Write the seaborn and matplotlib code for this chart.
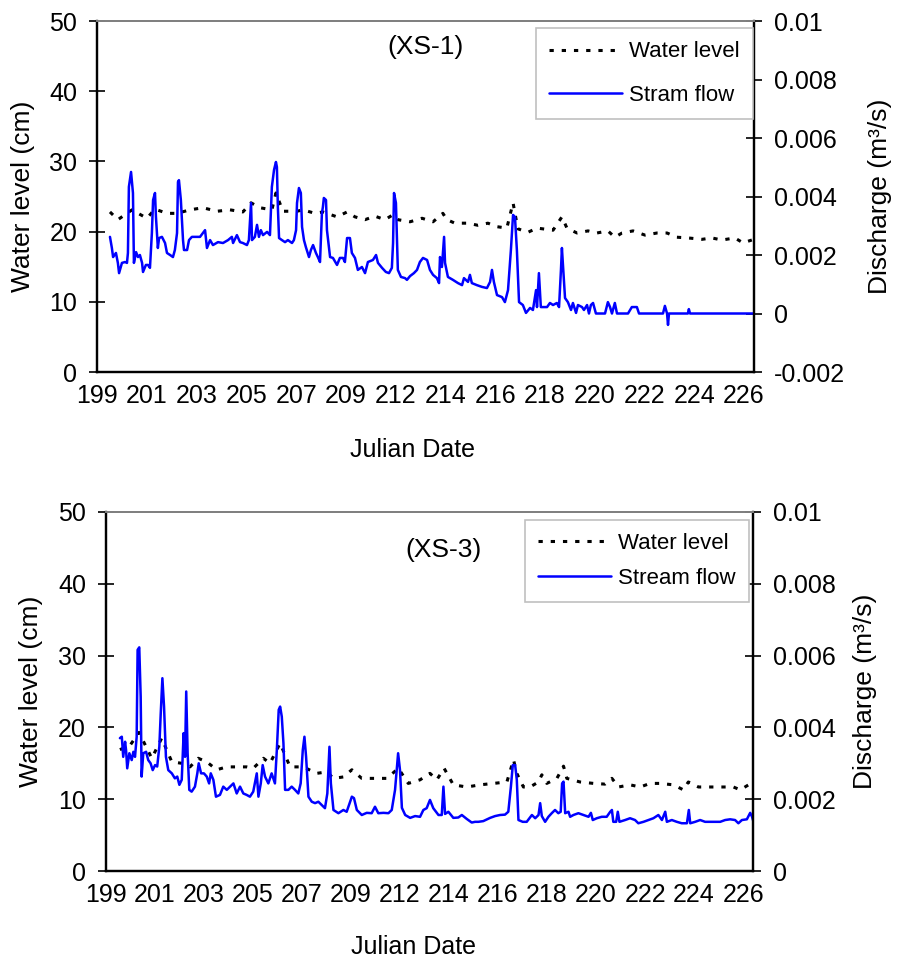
import numpy as np
import matplotlib
matplotlib.use('Agg')
import matplotlib.pyplot as plt
import seaborn as sns

# x tick labels (category style labels as in the original chart)
day_labels = ['199', '201', '203', '205', '207', '209', '212', '214',
              '216', '218', '220', '222', '224', '226']

# ---- XS-1 ----
xs1_level_day = [199.53, 199.86, 200.45, 201.07, 201.41, 201.91, 202.33, 202.87, 203.41, 204.00,
                 204.54, 205.08, 205.42, 205.79, 206.29, 206.46, 206.75, 207.34, 207.59, 208.09,
                 208.42, 209.01, 209.43, 209.76, 210.18, 210.59, 211.01, 211.35, 211.55, 212.06,
                 212.56, 213.02, 213.43, 213.60, 213.93, 214.48, 214.89, 215.31, 215.69, 216.10,
                 216.36, 216.56, 216.98, 217.36, 218.03, 218.40, 218.61, 219.03, 219.49, 219.86,
                 220.32, 220.61, 220.91, 221.37, 221.87, 222.37, 222.79, 223.20, 223.66, 224.25,
                 224.66, 225.08, 225.62, 225.96, 226.33]
xs1_level_cm = [22.8, 21.7, 23.1, 21.9, 23.2, 22.6, 22.6, 23.1, 23.4, 22.9,
                23.1, 22.8, 24.1, 23.4, 23.1, 25.5, 22.9, 22.9, 23.1, 22.6,
                22.8, 22.1, 22.8, 22.1, 21.7, 22.2, 21.7, 22.4, 21.7, 21.4,
                21.9, 21.4, 22.6, 21.7, 21.2, 21.2, 20.9, 21.2, 20.7, 20.5,
                24.1, 20.4, 19.9, 20.5, 20.2, 22.1, 20.5, 19.8, 20.1, 19.8,
                20.1, 19.2, 19.8, 20.1, 19.5, 19.8, 19.8, 19.2, 19.1, 18.9,
                19.1, 18.8, 19.1, 18.4, 18.8]

xs1_flow_day = [199.53, 199.61, 199.66, 199.78, 199.86, 199.91, 200.03, 200.16, 200.24, 200.28,
                200.32, 200.41, 200.49, 200.53, 200.62, 200.70, 200.78, 200.87, 200.91, 201.03,
                201.12, 201.20, 201.28, 201.33, 201.41, 201.45, 201.53, 201.58, 201.70, 201.83,
                201.91, 202.04, 202.16, 202.24, 202.33, 202.37, 202.41, 202.49, 202.58, 202.62,
                202.75, 202.83, 202.95, 203.16, 203.29, 203.41, 203.50, 203.58, 203.71, 203.83,
                204.04, 204.25, 204.46, 204.62, 204.67, 204.83, 204.96, 205.08, 205.25, 205.33,
                205.42, 205.46, 205.58, 205.67, 205.75, 205.83, 205.92, 206.09, 206.21, 206.29,
                206.38, 206.46, 206.50, 206.54, 206.59, 206.71, 206.84, 206.96, 207.13, 207.21,
                207.30, 207.34, 207.42, 207.50, 207.55, 207.63, 207.71, 207.84, 207.92, 208.01,
                208.13, 208.21, 208.30, 208.38, 208.42, 208.46, 208.55, 208.59, 208.72, 208.84,
                209.01, 209.13, 209.26, 209.34, 209.43, 209.55, 209.63, 209.76, 209.88, 210.05,
                210.18, 210.30, 210.51, 210.64, 210.72, 210.89, 211.05, 211.18, 211.30, 211.35,
                211.39, 211.47, 211.55, 211.68, 211.85, 211.93, 212.06, 212.22, 212.35, 212.47,
                212.60, 212.77, 212.89, 213.02, 213.18, 213.27, 213.31, 213.39, 213.48, 213.52,
                213.64, 213.85, 214.06, 214.23, 214.31, 214.48, 214.56, 214.64, 214.85, 215.06,
                215.27, 215.40, 215.48, 215.56, 215.69, 215.90, 216.02, 216.15, 216.27, 216.36,
                216.44, 216.52, 216.61, 216.77, 216.90, 217.07, 217.19, 217.32, 217.36, 217.44,
                217.52, 217.61, 217.78, 217.90, 218.03, 218.19, 218.28, 218.36, 218.40, 218.44,
                218.53, 218.65, 218.78, 218.86, 218.99, 219.07, 219.24, 219.32, 219.45, 219.53,
                219.61, 219.70, 219.82, 220.20, 220.32, 220.41, 220.49, 220.61, 220.70, 221.16,
                221.32, 221.53, 221.62, 222.62, 222.70, 222.79, 222.83, 222.87, 223.66, 223.70,
                223.75, 226.38]
xs1_flow_q = [0.00262, 0.00224, 0.00193, 0.00207, 0.00173, 0.00138, 0.00173, 0.00176, 0.00173, 0.00207,
              0.00433, 0.00484, 0.00412, 0.00173, 0.00210, 0.00193, 0.00200, 0.00173, 0.00142, 0.00166,
              0.00166, 0.00156, 0.00275, 0.00388, 0.00412, 0.00330, 0.00224, 0.00258, 0.00262, 0.00241,
              0.00207, 0.00200, 0.00193, 0.00217, 0.00275, 0.00450, 0.00456, 0.00388, 0.00251, 0.00217,
              0.00217, 0.00251, 0.00262, 0.00262, 0.00262, 0.00275, 0.00285, 0.00224, 0.00251, 0.00234,
              0.00244, 0.00241, 0.00251, 0.00262, 0.00241, 0.00268, 0.00244, 0.00241, 0.00234, 0.00251,
              0.00378, 0.00251, 0.00262, 0.00303, 0.00262, 0.00285, 0.00268, 0.00279, 0.00268, 0.00433,
              0.00491, 0.00518, 0.00501, 0.00364, 0.00258, 0.00251, 0.00244, 0.00251, 0.00241, 0.00251,
              0.00285, 0.00378, 0.00429, 0.00412, 0.00296, 0.00251, 0.00227, 0.00193, 0.00217, 0.00234,
              0.00207, 0.00193, 0.00176, 0.00343, 0.00364, 0.00395, 0.00388, 0.00285, 0.00193, 0.00190,
              0.00166, 0.00190, 0.00190, 0.00176, 0.00258, 0.00258, 0.00207, 0.00190, 0.00149, 0.00159,
              0.00138, 0.00176, 0.00183, 0.00200, 0.00173, 0.00156, 0.00142, 0.00138, 0.00156, 0.00241,
              0.00412, 0.00378, 0.00149, 0.00125, 0.00121, 0.00115, 0.00128, 0.00138, 0.00149, 0.00176,
              0.00190, 0.00183, 0.00149, 0.00132, 0.00121, 0.00104, 0.00193, 0.00159, 0.00262, 0.00173,
              0.00125, 0.00115, 0.00104, 0.00097, 0.00121, 0.00108, 0.00132, 0.00104, 0.00097, 0.00091,
              0.00087, 0.00108, 0.00149, 0.00108, 0.00063, 0.00056, 0.00039, 0.00080, 0.00217, 0.00337,
              0.00330, 0.00217, 0.00039, 0.00029, 0.00002, 0.00019, 0.00012, 0.00080, 0.00022, 0.00138,
              0.00022, 0.00022, 0.00022, 0.00036, 0.00029, 0.00036, 0.00022, 0.00149, 0.00224, 0.00173,
              0.00053, 0.00039, 0.00012, 0.00036, 0.00002, 0.00029, 0.00022, 0.00012, 0.00029, 0.0,
              0.00029, 0.00036, 0.0, 0.0, 0.00039, 0.00022, 0.0, 0.00036, 0.0, 0.0,
              0.00022, 0.00022, 0.0, 0.0, 0.00026, 0.0, -0.00039, 0.0, 0.0, 0.00015,
              0.0, 0.0]

# ---- XS-3 ----
xs3_level_day = [199.59, 200.02, 200.40, 200.94, 201.36, 201.79, 202.21, 202.56, 202.91, 203.27,
                 203.69, 204.12, 204.54, 204.96, 205.24, 205.67, 205.95, 206.38, 206.80, 207.36,
                 207.93, 208.36, 208.64, 209.06, 209.42, 209.84, 210.33, 210.90, 211.39, 211.81,
                 212.31, 212.73, 213.02, 213.33, 213.72, 214.29, 214.85, 215.42, 215.99, 216.27,
                 216.41, 216.69, 216.97, 217.33, 217.47, 217.68, 218.11, 218.39, 218.53, 219.09,
                 219.66, 220.15, 220.44, 220.72, 221.21, 221.64, 222.06, 222.48, 223.05, 223.47,
                 223.68, 224.11, 224.60, 225.17, 225.59, 225.88, 226.23, 226.44]
xs3_level_cm = [16.9, 17.5, 19.3, 15.7, 18.5, 15.2, 15.0, 14.5, 15.7, 15.2,
                14.1, 14.5, 14.5, 14.5, 14.3, 15.7, 15.0, 17.8, 14.5, 14.5,
                13.6, 13.8, 12.9, 13.1, 14.1, 12.9, 12.9, 12.9, 14.3, 12.2,
                12.7, 13.6, 12.7, 14.3, 12.0, 11.7, 12.0, 12.2, 12.4, 15.5,
                13.6, 11.7, 11.7, 12.4, 13.4, 12.2, 12.9, 14.6, 12.9, 12.4,
                12.2, 12.1, 12.9, 11.7, 12.0, 11.7, 12.2, 12.2, 12.0, 11.3,
                12.4, 11.7, 11.7, 11.7, 11.7, 11.3, 12.0, 12.1]

xs3_flow_day = [199.59, 199.67, 199.73, 199.81, 199.85, 199.90, 199.99, 200.09, 200.16, 200.23,
                200.30, 200.34, 200.41, 200.47, 200.51, 200.58, 200.70, 200.79, 200.89, 200.98,
                201.08, 201.17, 201.26, 201.32, 201.39, 201.46, 201.54, 201.64, 201.79, 201.92,
                202.02, 202.11, 202.21, 202.29, 202.35, 202.40, 202.46, 202.53, 202.63, 202.77,
                202.87, 202.93, 203.03, 203.15, 203.27, 203.37, 203.44, 203.55, 203.66, 203.83,
                203.97, 204.12, 204.26, 204.40, 204.54, 204.68, 204.82, 204.96, 205.10, 205.24,
                205.39, 205.46, 205.56, 205.64, 205.74, 205.88, 206.02, 206.16, 206.24, 206.32,
                206.38, 206.45, 206.52, 206.59, 206.73, 206.87, 207.01, 207.15, 207.25, 207.34,
                207.41, 207.48, 207.58, 207.72, 207.86, 208.00, 208.14, 208.28, 208.38, 208.47,
                208.53, 208.64, 208.85, 209.06, 209.20, 209.42, 209.51, 209.63, 209.84, 210.05,
                210.26, 210.40, 210.54, 210.76, 210.97, 211.11, 211.25, 211.38, 211.46, 211.54,
                211.68, 211.89, 212.10, 212.31, 212.45, 212.59, 212.73, 212.87, 213.09, 213.23,
                213.30, 213.37, 213.51, 213.72, 213.93, 214.08, 214.29, 214.50, 214.64, 214.78,
                214.99, 215.28, 215.49, 215.70, 215.91, 216.05, 216.16, 216.24, 216.34, 216.41,
                216.48, 216.66, 216.83, 217.05, 217.19, 217.33, 217.40, 217.47, 217.61, 217.75,
                217.89, 218.03, 218.17, 218.27, 218.33, 218.39, 218.46, 218.60, 218.67, 218.81,
                219.02, 219.23, 219.45, 219.55, 219.63, 219.80, 220.01, 220.22, 220.37, 220.44,
                220.50, 220.62, 220.69, 220.76, 221.00, 221.21, 221.42, 221.56, 221.78, 221.99,
                222.20, 222.41, 222.56, 222.70, 222.77, 222.98, 223.19, 223.40, 223.62, 223.70,
                223.76, 223.97, 224.18, 224.39, 224.60, 224.82, 225.03, 225.24, 225.45, 225.66,
                225.80, 225.95, 226.16, 226.30, 226.38, 226.44]
xs3_flow_q = [0.00370, 0.00374, 0.00318, 0.00360, 0.00337, 0.00286, 0.00328, 0.00309, 0.00332, 0.00318,
              0.00374, 0.00616, 0.00623, 0.00486, 0.00263, 0.00328, 0.00332, 0.00309, 0.00300, 0.00281,
              0.00295, 0.00291, 0.00346, 0.00439, 0.00537, 0.00458, 0.00318, 0.00281, 0.00272, 0.00258,
              0.00263, 0.00240, 0.00254, 0.00384, 0.00318, 0.00500, 0.00328, 0.00226, 0.00221, 0.00235,
              0.00272, 0.00300, 0.00272, 0.00272, 0.00263, 0.00244, 0.00272, 0.00254, 0.00207, 0.00212,
              0.00235, 0.00226, 0.00235, 0.00244, 0.00216, 0.00235, 0.00216, 0.00212, 0.00207, 0.00221,
              0.00272, 0.00207, 0.00244, 0.00295, 0.00263, 0.00244, 0.00272, 0.00244, 0.00337, 0.00449,
              0.00458, 0.00430, 0.00356, 0.00226, 0.00226, 0.00235, 0.00226, 0.00216, 0.00244, 0.00337,
              0.00374, 0.00318, 0.00207, 0.00193, 0.00189, 0.00193, 0.00184, 0.00175, 0.00216, 0.00346,
              0.00244, 0.00170, 0.00161, 0.00170, 0.00165, 0.00207, 0.00203, 0.00170, 0.00156, 0.00162,
              0.00161, 0.00179, 0.00161, 0.00162, 0.00161, 0.00170, 0.00226, 0.00328, 0.00281, 0.00176,
              0.00156, 0.00148, 0.00153, 0.00151, 0.00170, 0.00175, 0.00198, 0.00175, 0.00156, 0.00156,
              0.00235, 0.00159, 0.00165, 0.00148, 0.00149, 0.00156, 0.00145, 0.00135, 0.00137, 0.00137,
              0.00139, 0.00148, 0.00153, 0.00156, 0.00157, 0.00165, 0.00235, 0.00295, 0.00295, 0.00254,
              0.00142, 0.00137, 0.00137, 0.00156, 0.00147, 0.00156, 0.00189, 0.00153, 0.00137, 0.00151,
              0.00161, 0.00170, 0.00161, 0.00165, 0.00244, 0.00249, 0.00161, 0.00165, 0.00151, 0.00156,
              0.00161, 0.00156, 0.00151, 0.00162, 0.00142, 0.00147, 0.00151, 0.00151, 0.00165, 0.00170,
              0.00137, 0.00137, 0.00165, 0.00137, 0.00142, 0.00147, 0.00142, 0.00133, 0.00137, 0.00142,
              0.00147, 0.00156, 0.00142, 0.00165, 0.00137, 0.00142, 0.00137, 0.00133, 0.00133, 0.00170,
              0.00133, 0.00137, 0.00142, 0.00137, 0.00137, 0.00137, 0.00137, 0.00142, 0.00144, 0.00142,
              0.00133, 0.00142, 0.00144, 0.00162, 0.00151, 0.00137]

sns.set_style('white')
plt.rcParams['font.family'] = ['Liberation Sans', 'DejaVu Sans']
for key in ('text.color', 'axes.labelcolor', 'xtick.color', 'ytick.color'):
    plt.rcParams[key] = 'black'

fig = plt.figure(figsize=(8.99, 9.68), dpi=100)

panels = [
    dict(rect=[0.1082, 0.6157, 0.7305, 0.3626], lvl=(xs1_level_day, xs1_level_cm),
         flow=(xs1_flow_day, xs1_flow_q), qlim=(-0.002, 0.01), tag='(XS-1)', tag_xy=(0.50, 0.926),
         flow_name='Stram flow', leg_anchor=(0.9985, 0.98), leg_space=1.0,
         ylab_x=-0.0955, rlab_x=1.1736, xlab_xy=(0.48, -0.188)),
    dict(rect=[0.1179, 0.1002, 0.7197, 0.3709], lvl=(xs3_level_day, xs3_level_cm),
         flow=(xs3_flow_day, xs3_flow_q), qlim=(0.0, 0.01), tag='(XS-3)', tag_xy=(0.522, 0.894),
         flow_name='Stream flow', leg_anchor=(0.9938, 0.978), leg_space=0.6,
         ylab_x=-0.0974, rlab_x=1.1546, xlab_xy=(0.476, -0.178)),
]

tick_pos = np.linspace(199, 226, len(day_labels))

for p in panels:
    ax = fig.add_axes(p['rect'])
    ax2 = ax.twinx()

    sns.lineplot(x=p['lvl'][0], y=p['lvl'][1], ax=ax, color='black', linewidth=2.2,
                 linestyle=(0, (1.4, 2.6)), legend=False)
    sns.lineplot(x=p['flow'][0], y=p['flow'][1], ax=ax2, color='#0000ff', linewidth=1.8,
                 legend=False)

    ax.set_xlim(199, 226.42)
    ax.set_ylim(0, 50)
    ax.set_yticks(range(0, 51, 10))
    ax2.set_ylim(*p['qlim'])
    qt = np.round(np.arange(p['qlim'][0], 0.01001, 0.002), 4)
    ax2.set_yticks(qt)
    ax2.set_yticklabels(['{:g}'.format(v) for v in qt])

    ax.set_xticks(tick_pos)
    ax.set_xticklabels(day_labels)

    for a in (ax, ax2):
        a.tick_params(direction='inout', length=12, width=1.2, labelsize=18, color='black')
        for side in ('left', 'right', 'bottom'):
            a.spines[side].set_color('black')
            a.spines[side].set_linewidth(1.6)
        a.spines['top'].set_color('#808080')
        a.spines['top'].set_linewidth(1.4)
        a.grid(False)
    ax.tick_params(axis='y', pad=8.4)
    ax2.tick_params(axis='y', pad=8.4)
    ax.tick_params(axis='x', pad=2.5, labelsize=18)

    ax.set_xlabel('Julian Date', fontsize=18)
    ax.xaxis.set_label_coords(*p['xlab_xy'])
    ax.set_ylabel('Water level (cm)', fontsize=19)
    ax.yaxis.set_label_coords(p['ylab_x'], 0.5)
    ax2.set_ylabel('Discharge (m³/s)', fontsize=19, rotation=90)
    ax2.yaxis.set_label_coords(p['rlab_x'], 0.5)

    ax.text(p['tag_xy'][0], p['tag_xy'][1], p['tag'], transform=ax.transAxes,
            ha='center', va='center', fontsize=19)

    handles = [ax.get_lines()[0], ax2.get_lines()[0]]
    leg = ax2.legend(handles, ['Water level', p['flow_name']], loc='upper right',
                     bbox_to_anchor=p['leg_anchor'], borderaxespad=0, fontsize=16,
                     frameon=True, fancybox=False, framealpha=1, edgecolor='#c0c0c0',
                     handlelength=3.3, handletextpad=0.3, borderpad=0.6,
                     labelspacing=p['leg_space'])
    leg.get_frame().set_linewidth(1.2)

fig.savefig('out.png', dpi=100)
